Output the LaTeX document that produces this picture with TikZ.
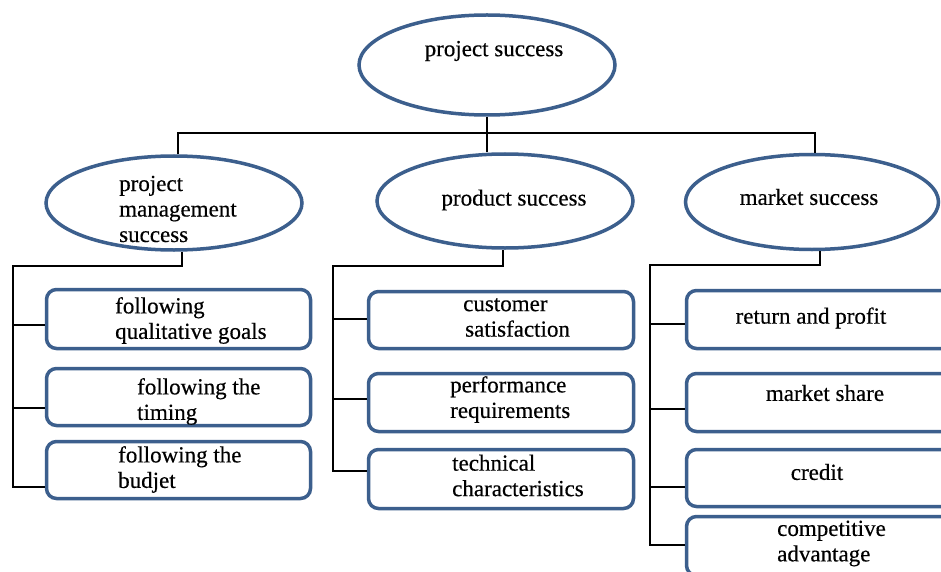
\documentclass[tikz,border=0pt]{standalone}
\usepackage{fontspec}
\setmainfont{Liberation Serif}[FakeBold=0.4]
\usetikzlibrary{shapes.geometric}
\definecolor{edgeblue}{HTML}{3C5F8D}
\begin{document}
\begin{tikzpicture}[x=1pt,y=-1pt,
  oval/.style={ellipse, draw=edgeblue, line width=3.5pt, fill=white, inner sep=0pt},
  rbox/.style={draw=edgeblue, line width=3.5pt, rounded corners=10pt, fill=white, inner sep=0pt},
  lbl/.style={inner sep=0pt, font=\fontsize{23}{25.5}\selectfont, align=left},
  conn/.style={draw=black, line width=2.2pt}]
\clip (0,0) rectangle (941,572);
\fill[white] (0,0) rectangle (941,572);
% ellipses
\node[oval, minimum width=256, minimum height=100] (ps) at (487,65) {};
\node[oval, minimum width=256, minimum height=94] (pm) at (174,203) {};
\node[oval, minimum width=256, minimum height=94] (pr) at (505,201) {};
\node[oval, minimum width=253, minimum height=95] (mk) at (812,202) {};
% boxes left
\node[rbox, minimum width=264, minimum height=59] (lb1) at (178.5,319) {};
\node[rbox, minimum width=264, minimum height=57] (lb2) at (178.5,397) {};
\node[rbox, minimum width=264, minimum height=57] (lb3) at (178.5,470) {};
% boxes middle
\node[rbox, minimum width=265, minimum height=57] (mb1) at (501,320) {};
\node[rbox, minimum width=265, minimum height=58] (mb2) at (501,402.5) {};
\node[rbox, minimum width=265, minimum height=59] (mb3) at (501,479) {};
% boxes right
\node[rbox, minimum width=267, minimum height=58] (rb1) at (820,319.5) {};
\node[rbox, minimum width=267, minimum height=58] (rb2) at (820,402.5) {};
\node[rbox, minimum width=267, minimum height=57] (rb3) at (820,478) {};
\node[rbox, minimum width=267, minimum height=59] (rb4) at (820,546) {};
% connectors
\coordinate (bus) at (0,133);
\draw[conn] ([xshift=4]pm.north) -- ([xshift=4]pm.north |- bus) -- ([xshift=3]mk.north |- bus) -- ([xshift=3]mk.north);
\draw[conn] (ps.south) -- (ps.south |- pr.north);
\coordinate (lh) at (13,266);
\draw[conn] ([xshift=8]pm.south) |- (lh) -- (lh |- 0,487) -- (lb3.west |- 0,487);
\draw[conn] (lh |- 0,325) -- (lb1.west |- 0,325);
\draw[conn] (lh |- 0,408) -- (lb2.west |- 0,408);
\coordinate (mh) at (333,266);
\draw[conn] ([xshift=-2]pr.south) |- (mh) -- (mh |- 0,471) -- (mb3.west |- 0,471);
\draw[conn] (mh |- 0,319) -- (mb1.west |- 0,319);
\draw[conn] (mh |- 0,399) -- (mb2.west |- 0,399);
\coordinate (rh) at (650,265);
\draw[conn] ([xshift=8]mk.south) |- (rh) -- (rh |- 0,545) -- (rb4.west |- 0,545);
\draw[conn] (rh |- 0,324) -- (rb1.west |- 0,324);
\draw[conn] (rh |- 0,409) -- (rb2.west |- 0,409);
\draw[conn] (rh |- 0,487) -- (rb3.west |- 0,487);
% texts
\node[lbl] (tps) at (494,51) {project success};
\node[lbl, anchor=west] (tpm) at (119,209) {project\\management\\success};
\node[lbl] (tpr) at (514,200) {product success};
\node[lbl] (tmk) at (809,197) {market success};
\node[lbl, anchor=west] (tl1) at (115,320.5) {following\\qualitative goals};
\node[lbl, anchor=west] (tl2) at (137,401.5) {following the\\timing};
\node[lbl, anchor=west] (tl3) at (118,469.5) {following the\\budjet};
\node[lbl, anchor=west] (tm1) at (463,317.5) {customer\\\hspace*{2pt}satisfaction};
\node[lbl, anchor=west] (tm2) at (450,399.5) {performance\\requirements};
\node[lbl, anchor=west] (tm3) at (452,475.5) {technical\\characteristics};
\node[lbl] (tr1) at (811,318) {return and profit};
\node[lbl] (tr2) at (825,393) {market share};
\node[lbl] (tr3) at (817,472) {credit};
\node[lbl, anchor=west] (tr4) at (777,543.5) {competitive\\advantage};
\end{tikzpicture}
\end{document}
